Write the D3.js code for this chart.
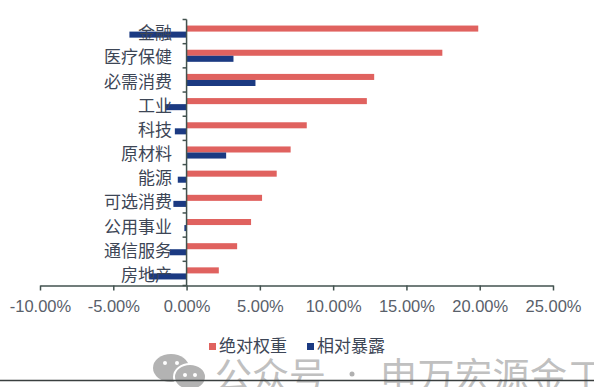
<!DOCTYPE html>
<html>
<head>
<meta charset="utf-8">
<script src="https://cdn.jsdelivr.net/npm/d3@7/dist/d3.min.js"></script>
<style>
  html, body { margin: 0; padding: 0; background: #fff; }
  svg { display: block; }
</style>
</head>
<body>
<svg id="chart" width="594" height="387"></svg>
<script>
const categories = ["金融", "医疗保健", "必需消费", "工业", "科技", "原材料", "能源", "可选消费", "公用事业", "通信服务", "房地产"];
const absoluteWeight = [19.9, 17.45, 12.8, 12.3, 8.2, 7.1, 6.15, 5.15, 4.4, 3.45, 2.2];
const relativeExposure = [-3.9, 3.2, 4.7, -1.45, -0.8, 2.7, -0.6, -0.9, -0.15, -1.15, -2.55];
const seriesNames = ["绝对权重", "相对暴露"];
const seriesColors = ["#e0625f", "#1b3a82"];
const xTicks = [-10, -5, 0, 5, 10, 15, 20, 25];

const svg = d3.select("#chart");
svg.append("rect").attr("width", 594).attr("height", 387).attr("fill", "#fff");

const cjk = "'Noto Sans CJK SC', 'Noto Sans', sans-serif";
const latin = "'Liberation Sans', Arial, sans-serif";
const textColor = "#3d4656";
const axisColor = "#42524f";

const x = d3.scaleLinear().domain([-10, 25]).range([40, 553]);
const y0 = d3.scaleBand().domain(categories).range([19.5, 285.5]).padding(0);
const y1 = d3.scaleBand().domain(seriesNames).range([0, y0.bandwidth()]).paddingInner(0).paddingOuter(1);

const series = [absoluteWeight, relativeExposure];

// bars
const g = svg.append("g");
series.forEach((vals, si) => {
  g.selectAll(".bar" + si)
    .data(categories.map((c, i) => ({ c, v: vals[i] })))
    .join("rect")
    .attr("x", d => x(Math.min(0, d.v)))
    .attr("width", d => Math.abs(x(d.v) - x(0)))
    .attr("y", d => y0(d.c) + y1(seriesNames[si]))
    .attr("height", y1.bandwidth())
    .attr("fill", seriesColors[si]);
});

// x axis
const xAxis = d3.axisBottom(x)
  .tickValues(xTicks)
  .tickFormat(d => d.toFixed(2) + "%")
  .tickSize(5)
  .tickPadding(10)
  .tickSizeOuter(0);
const xg = svg.append("g").attr("transform", "translate(0,285.5)").call(xAxis);
xg.select(".domain").attr("stroke", axisColor).attr("stroke-width", 1.5);
xg.selectAll(".tick line").attr("stroke", axisColor).attr("stroke-width", 1.5);
xg.selectAll(".tick text").attr("fill", "#59606a").style("font-family", latin).style("font-size", "16.5px");

// y axis (drawn at x=0, ticks at band boundaries)
const yAxisG = svg.append("g");
yAxisG.append("line")
  .attr("x1", x(0)).attr("x2", x(0))
  .attr("y1", y0.range()[0]).attr("y2", y0.range()[1])
  .attr("stroke", axisColor).attr("stroke-width", 1.5);
const boundaries = categories.map(c => y0(c)).concat([y0.range()[1]]);
yAxisG.selectAll(".ytick").data(boundaries).join("line")
  .attr("x1", x(0) - 4).attr("x2", x(0))
  .attr("y1", d => d).attr("y2", d => d)
  .attr("stroke", axisColor).attr("stroke-width", 1.5);

// category labels
svg.append("g").selectAll("text").data(categories).join("text")
  .attr("x", 172)
  .attr("y", d => y0(d) + y0.bandwidth() / 2 + 3)
  .attr("text-anchor", "end")
  .attr("dominant-baseline", "middle")
  .attr("fill", textColor)
  .style("font-family", cjk)
  .style("font-size", "17px")
  .text(d => d);

// legend
const legendX = [209, 307];
const lg = svg.append("g");
seriesNames.forEach((name, i) => {
  lg.append("rect").attr("x", legendX[i]).attr("y", 343).attr("width", 7).attr("height", 7).attr("fill", seriesColors[i]);
  lg.append("text").attr("x", legendX[i] + 10).attr("y", 347)
    .attr("dominant-baseline", "middle")
    .attr("fill", textColor)
    .style("font-family", cjk).style("font-size", "17px")
    .text(name);
});

// watermark
const wm = svg.append("g");
wm.append("ellipse").attr("cx", 171).attr("cy", 368).attr("rx", 18).attr("ry", 14).attr("fill", "#b3b3b3");
wm.append("ellipse").attr("cx", 190).attr("cy", 377).attr("rx", 16).attr("ry", 13).attr("fill", "#b3b3b3").attr("stroke", "#fff").attr("stroke-width", 2);
[[165, 363], [177, 363], [185, 375], [195, 375]].forEach(p => {
  wm.append("circle").attr("cx", p[0]).attr("cy", p[1]).attr("r", 2).attr("fill", "#fff");
});
wm.append("text").attr("x", 215).attr("y", 390).attr("fill", "#c0c0c0")
  .style("font-family", cjk).style("font-size", "37px").text("公众号");
wm.append("circle").attr("cx", 352).attr("cy", 374).attr("r", 2.5).attr("fill", "#b0b0b0");
wm.append("text").attr("x", 380).attr("y", 390).attr("fill", "#c0c0c0")
  .style("font-family", cjk).style("font-size", "37px").style("letter-spacing", "0.5px").text("申万宏源金工");

// bottom rule
svg.append("line").attr("x1", 0).attr("x2", 594).attr("y1", 380.5).attr("y2", 380.5)
  .attr("stroke", "#3a3f3f").attr("stroke-width", 1.5);
</script>
</body>
</html>
